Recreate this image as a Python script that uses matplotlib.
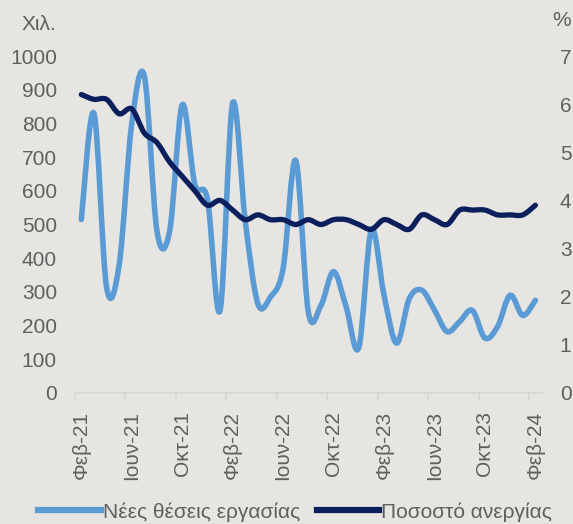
import numpy as np
import matplotlib
matplotlib.use('Agg')
import matplotlib.pyplot as plt
from matplotlib.path import Path
from matplotlib.patches import PathPatch
from matplotlib.lines import Line2D

plt.rcParams['font.family'] = ['Liberation Sans', 'DejaVu Sans']

# monthly data, Feb-21 .. Feb-24
month_names = ['Ιαν', 'Φεβ', 'Μαρ', 'Απρ', 'Μαι', 'Ιουν', 'Ιουλ', 'Αυγ', 'Σεπ', 'Οκτ', 'Νοε', 'Δεκ']
months = [month_names[(1 + i) % 12] + '-' + str(21 + (1 + i) // 12) for i in range(37)]

new_jobs = [515, 830, 315, 380, 800, 940, 480, 480, 855, 620, 575, 245, 860, 510, 265, 285,
            370, 690, 240, 260, 360, 255, 135, 485, 290, 148, 280, 305, 246, 182, 212, 245,
            163, 197, 290, 230, 275]
unemp = [6.2, 6.1, 6.1, 5.8, 5.9, 5.4, 5.2, 4.8, 4.5, 4.2, 3.9, 4.0, 3.8, 3.6, 3.7, 3.6,
         3.6, 3.5, 3.6, 3.5, 3.6, 3.6, 3.5, 3.4, 3.6, 3.5, 3.4, 3.7, 3.6, 3.5, 3.8, 3.8,
         3.8, 3.7, 3.7, 3.7, 3.9]

label_jobs = 'Νέες θέσεις εργασίας'
label_unemp = 'Ποσοστό ανεργίας'

bg = '#e6e5e1'
c_jobs = '#5b9bd5'
c_unemp = '#0a1f5c'
txt = '#5f5f5f'
fs = 15


def smooth_path(x, y):
    # cubic bezier through the points (excel-like smoothed line)
    x = np.asarray(x, float)
    y = np.asarray(y, float)
    n = len(x)
    verts = [(x[0], y[0])]
    codes = [Path.MOVETO]
    for i in range(n - 1):
        i0 = max(i - 1, 0)
        i3 = min(i + 2, n - 1)
        c1 = (x[i] + (x[i + 1] - x[i0]) / 6, y[i] + (y[i + 1] - y[i0]) / 6)
        c2 = (x[i + 1] - (x[i3] - x[i]) / 6, y[i + 1] - (y[i3] - y[i]) / 6)
        verts += [c1, c2, (x[i + 1], y[i + 1])]
        codes += [Path.CURVE4] * 3
    return Path(verts, codes)


xs = np.arange(len(months))

fig = plt.figure(figsize=(5.73, 5.24), dpi=100, facecolor=bg)
ax = fig.add_axes([75 / 573, 1 - 393 / 524, 466.7 / 573, 337 / 524])
ax.set_facecolor(bg)
ax2 = ax.twinx()

ax.add_patch(PathPatch(smooth_path(xs, new_jobs), fill=False, edgecolor=c_jobs,
                       lw=4.0, capstyle='round', joinstyle='round'))
ax2.add_patch(PathPatch(smooth_path(xs, unemp), fill=False, edgecolor=c_unemp,
                        lw=3.8, capstyle='round', joinstyle='round'))

ax.set_xlim(-0.5, len(months) - 0.5)
ax.set_ylim(0, 1000)
ax2.set_ylim(0, 7)
ax.set_yticks(np.arange(0, 1001, 100))
ax2.set_yticks(np.arange(0, 8, 1))

ax.set_xticks(xs[::4])
ax.set_xticklabels(months[::4], rotation=90)
ax.set_xticks(np.arange(-0.5, len(months), 4), minor=True)

for a in (ax, ax2):
    for s in a.spines.values():
        s.set_visible(False)
ax.spines['bottom'].set_visible(True)
ax.spines['bottom'].set_color('#d6d6d6')
ax.spines['bottom'].set_linewidth(1.2)

ax.tick_params(axis='y', length=0, pad=13, labelsize=fs, labelcolor=txt)
ax2.tick_params(axis='y', length=0, pad=13, labelsize=fs, labelcolor=txt)
ax.tick_params(axis='x', which='major', length=0, pad=13, labelsize=fs, labelcolor=txt)
ax.tick_params(axis='x', which='minor', length=5, color='#d6d6d6', width=1.2)

fig.text(22 / 573, 1 - 24 / 524, 'Χιλ.', fontsize=fs, color=txt, ha='left', va='center')
fig.text(571 / 573, 1 - 20 / 524, '%', fontsize=fs, color=txt, ha='right', va='center')

handles = [Line2D([], [], color=c_jobs, lw=4.5), Line2D([], [], color=c_unemp, lw=4.5)]
fig.legend(handles, [label_jobs, label_unemp], loc='center', bbox_to_anchor=(0.515, 1 - 512 / 524),
           ncol=2, frameon=False, fontsize=fs, labelcolor=txt, handlelength=3.0,
           handletextpad=0.1, columnspacing=0.8)

fig.savefig('out.png', dpi=100, facecolor=bg)
